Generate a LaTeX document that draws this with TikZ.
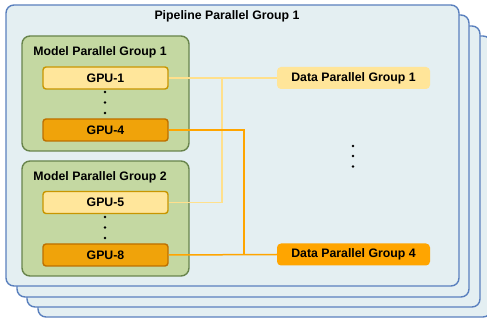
\documentclass[tikz,border=0pt]{standalone}
\usepackage{fontspec}
\setmainfont{Liberation Sans}
\definecolor{pipefill}{RGB}{228,239,242}
\definecolor{pipeline}{RGB}{90,128,190}
\definecolor{mpfill}{RGB}{196,216,162}
\definecolor{mpline}{RGB}{104,132,76}
\definecolor{gpuyfill}{RGB}{255,230,155}
\definecolor{gpuyline}{RGB}{200,150,0}
\definecolor{gpuofill}{RGB}{240,163,10}
\definecolor{gpuoline}{RGB}{189,112,0}
\definecolor{dpyfill}{RGB}{255,229,153}
\definecolor{dpofill}{RGB}{255,165,0}
\definecolor{linky}{RGB}{255,224,140}
\definecolor{linko}{RGB}{255,165,0}
\tikzset{
  pipebox/.style={draw=pipeline, fill=pipefill, line width=1.4pt, rounded corners=8pt},
  mpbox/.style={draw=mpline, fill=mpfill, line width=1.4pt, rounded corners=8pt, minimum width=167pt, minimum height=115pt, inner sep=0pt},
  gpuy/.style={draw=gpuyline, fill=gpuyfill, line width=1.4pt, rounded corners=3pt, minimum width=125pt, minimum height=22pt, inner sep=0pt, font=\fontsize{12.3pt}{14pt}\selectfont\bfseries},
  gpuo/.style={gpuy, draw=gpuoline, fill=gpuofill},
  dpy/.style={fill=dpyfill, rounded corners=4pt, minimum width=153pt, minimum height=22pt, inner sep=0pt, font=\fontsize{12.3pt}{14pt}\selectfont\bfseries},
  dpo/.style={dpy, fill=dpofill},
  ttl/.style={font=\fontsize{12.3pt}{14pt}\selectfont\bfseries, inner sep=0pt},
  dotm/.style={fill=black, circle, inner sep=0pt, minimum size=2.6pt},
  linkylin/.style={draw=linky, line width=1.5pt},
  linkolin/.style={draw=linko, line width=1.5pt},
}
\begin{document}
\begin{tikzpicture}[x=1pt,y=-1pt]
\useasboundingbox (0,0) rectangle (487,320);
\clip (0,0) rectangle (487,320);
\fill[white] (0,0) rectangle (487,320);
% stacked pipeline boxes
\draw[pipebox] (38,36) rectangle (491,317);
\draw[pipebox] (27,26) rectangle (480,307);
\draw[pipebox] (17,15) rectangle (469,297);
\draw[pipebox] (6,5) rectangle (459,286);
\node[ttl] (ptitle) at (227,16) {Pipeline Parallel Group 1};
% model parallel groups
\node[mpbox] (mp1) at (105.5,93.5) {};
\node[ttl] (mp1t) at (100,52) {Model Parallel Group 1};
\node[mpbox] (mp2) at (105.5,218.5) {};
\node[ttl] (mp2t) at (100,177) {Model Parallel Group 2};
% GPUs
\node[gpuy] (g1) at (105.5,78) {GPU-1};
\node[gpuo] (g4) at (105.5,130) {GPU-4};
\node[gpuy] (g5) at (105.5,202.5) {GPU-5};
\node[gpuo] (g8) at (105.5,255) {GPU-8};
% dots
\node[dotm] (d1) at (105,92) {};
\node[dotm] (d2) at (105,102.5) {};
\node[dotm] (d3) at (105,113) {};
\node[dotm] (d4) at (105,217) {};
\node[dotm] (d5) at (105,227.5) {};
\node[dotm] (d6) at (105,238) {};
\node[dotm] (d7) at (353,146) {};
\node[dotm] (d8) at (353,156) {};
\node[dotm] (d9) at (353,166.5) {};
% data parallel groups
\node[dpy] (dp1) at (353.5,78) {Data Parallel Group 1};
\node[dpo] (dp4) at (353.5,254.5) {Data Parallel Group 4};
% connectors
\coordinate (jy) at (222,78);
\coordinate (jo) at (244,255);
\draw[linkylin] (g1.east) -- (dp1.west);
\draw[linkylin] (jy) -- (jy |- g5.east) -- (g5.east);
\draw[linkolin] (g4.east) -- (g4.east -| jo) -- (jo);
\draw[linkolin] (g8.east) -- (dp4.west);
\end{tikzpicture}
\end{document}
